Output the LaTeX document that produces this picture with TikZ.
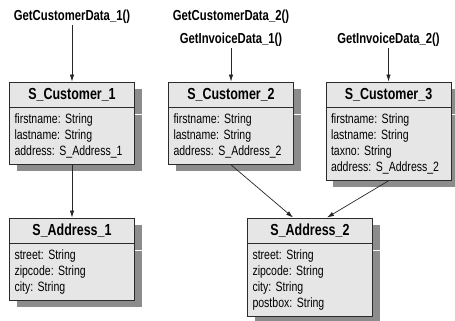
\documentclass[tikz,border=0pt]{standalone}
\usepackage{fontspec}
\setmainfont{Liberation Sans}[FakeStretch=0.78]
\usepackage{xcolor}
\usetikzlibrary{arrows.meta, positioning, shadows, calc}

\definecolor{boxgray}{HTML}{E6E6E6}
\definecolor{edgegray}{HTML}{2B2B2B}

\frenchspacing

\begin{document}
\begin{tikzpicture}[x=1pt, y=-1pt]

% Page frame
\useasboundingbox (0,0) rectangle (455,321);

% Shadow, box and arrow styles
\tikzset{cShadow/.style={drop shadow={shadow xshift=7pt, shadow yshift=-7pt, fill=black!45, opacity=1}}}
\tikzset{clsHead/.style={draw=edgegray, line width=0.9pt, fill=boxgray, cShadow, minimum width=125pt, minimum height=25pt, inner sep=0pt, font=\bfseries\fontsize{16}{17}\selectfont}}
\tikzset{clsBody/.style={draw=edgegray, line width=0.9pt, fill=boxgray, cShadow, text width=115pt, inner xsep=5pt, inner ysep=6pt, align=left, font=\fontsize{13.5}{16}\selectfont}}
\tikzset{callL/.style={font=\bfseries\fontsize{14.5}{16}\selectfont, inner sep=1.5pt}}
\tikzset{callA/.style={-{Latex[length=7pt, width=4.5pt]}, line width=0.7pt, black!85}}

% Calls
\node (l1) [callL] at (72, 17) {GetCustomerData\_1()};
\node (l2) [callL] at (231, 17) {GetCustomerData\_2()};
\node (l3) [callL] at (231, 40) {GetInvoiceData\_1()};
\node (l4) [callL] at (388.5, 40) {GetInvoiceData\_2()};

% Customer classes
\node (c1) [clsHead] at (72, 94.5) {S\_Customer\_1};
\node (c1b) [clsBody, below=0pt of c1] {firstname: String\\ lastname: String\\ address: S\_Address\_1};

\node (c2) [clsHead] at (231, 94.5) {S\_Customer\_2};
\node (c2b) [clsBody, below=0pt of c2] {firstname: String\\ lastname: String\\ address: S\_Address\_2};

\node (c3) [clsHead] at (388.5, 94.5) {S\_Customer\_3};
\node (c3b) [clsBody, below=0pt of c3] {firstname: String\\ lastname: String\\ taxno: String\\ address: S\_Address\_2};

% Address classes
\node (a1) [clsHead] at (72, 230.5) {S\_Address\_1};
\node (a1b) [clsBody, below=0pt of a1] {street: String\\ zipcode: String\\ city: String};

\node (a2) [clsHead] at (310, 230.5) {S\_Address\_2};
\node (a2b) [clsBody, below=0pt of a2] {street: String\\ zipcode: String\\ city: String\\ postbox: String};

% Arrow ends on S_Address_2
\coordinate (a2l) at ($ (a2.north) + (-17, 0) $);
\coordinate (a2r) at ($ (a2.north) + (17, 0) $);

% Arrows
\draw[callA] (l1) -- (c1);
\draw[callA] (l3) -- (c2);
\draw[callA] (l4) -- (c3);

\draw[callA] (c1b) -- (a1);
\draw[callA] (c2b.south) -- (a2l);
\draw[callA] (c3b.south) -- (a2r);

\end{tikzpicture}
\end{document}
